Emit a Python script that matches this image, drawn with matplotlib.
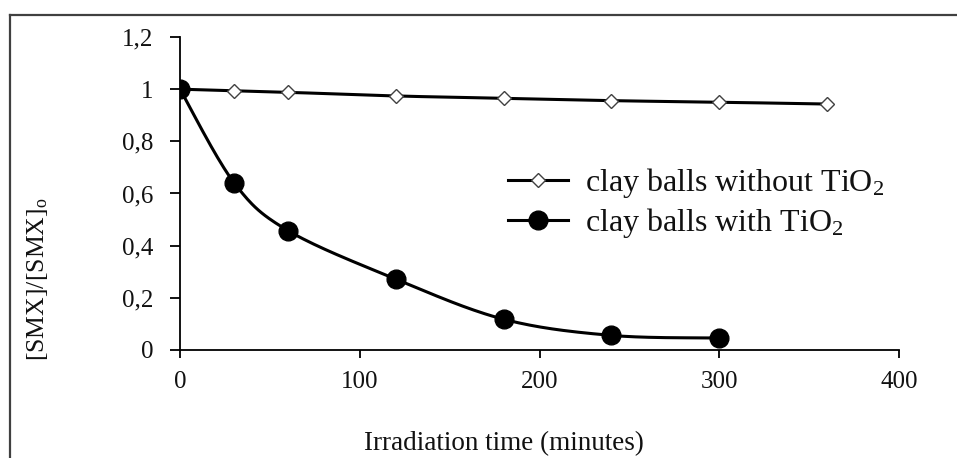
import numpy as np
import matplotlib
matplotlib.use("Agg")
import matplotlib.pyplot as plt
from matplotlib.lines import Line2D

plt.rcParams['font.family'] = ['Liberation Serif', 'DejaVu Serif']
plt.rcParams['mathtext.fontset'] = 'custom'
plt.rcParams['mathtext.rm'] = 'Liberation Serif'
plt.rcParams['mathtext.it'] = 'Liberation Serif:italic'

# Irradiation times (minutes) and normalised SMX concentration
time_without = [0, 30, 60, 120, 180, 240, 300, 360]
conc_without = [1.0, 0.994, 0.988, 0.974, 0.965, 0.956, 0.950, 0.943]

time_with = [0, 30, 60, 120, 180, 240, 300]
conc_with = [1.0, 0.642, 0.458, 0.272, 0.118, 0.056, 0.046]

label_without = r'clay balls without TiO$_2$'
label_with = r'clay balls with TiO$_2$'

x_ticks = [0, 100, 200, 300, 400]
y_ticks = [0, 0.2, 0.4, 0.6, 0.8, 1.0, 1.2]
y_tick_labels = ['0', '0,2', '0,4', '0,6', '0,8', '1', '1,2']

W, H = 957, 458
fig = plt.figure(figsize=(W / 100, H / 100), dpi=100)
ax = fig.add_axes([180 / W, 108 / H, 719 / W, 313 / H])
ax.set_xlim(0, 400)
ax.set_ylim(0, 1.2)


def smooth(xs, ys, n=30):
    """Catmull-Rom curve through the points, computed in axes-pixel space."""
    px = np.asarray(xs, float) / 400 * 719
    py = np.asarray(ys, float) / 1.2 * 313
    P = np.column_stack([px, py])
    P = np.vstack([P[0], P, P[-1]])
    out = []
    for i in range(1, len(P) - 2):
        p0, p1, p2, p3 = P[i - 1], P[i], P[i + 1], P[i + 2]
        t = np.linspace(0, 1, n)[:, None]
        seg = 0.5 * ((2 * p1) + (-p0 + p2) * t
                     + (2 * p0 - 5 * p1 + 4 * p2 - p3) * t ** 2
                     + (-p0 + 3 * p1 - 3 * p2 + p3) * t ** 3)
        out.append(seg if i == 1 else seg[1:])
    c = np.vstack(out)
    return c[:, 0] / 719 * 400, c[:, 1] / 313 * 1.2


lw = 2.2
sx, sy = smooth(time_without, conc_without)
ax.plot(sx, sy, color='black', lw=lw, zorder=2)
ax.plot(time_without, conc_without, ls='none', marker='D', ms=7.5,
        mfc='white', mec='#404040', mew=1.0, zorder=3)

sx, sy = smooth(time_with, conc_with)
ax.plot(sx, sy, color='black', lw=lw, zorder=4)
ax.plot(time_with, conc_with, ls='none', marker='o', ms=13.5,
        mfc='black', mec='black', zorder=5)

for s in ('top', 'right'):
    ax.spines[s].set_visible(False)
for s in ('left', 'bottom'):
    ax.spines[s].set_linewidth(1.3)
    ax.spines[s].set_color('black')

ax.set_xticks(x_ticks)
ax.set_xticklabels([str(v) for v in x_ticks])
ax.set_yticks(y_ticks)
ax.set_yticklabels(y_tick_labels)
ax.tick_params(axis='x', direction='out', length=6, width=1.3, pad=9,
               labelsize=18, colors='black')
ax.tick_params(axis='y', direction='out', length=7, width=1.3, pad=12,
               labelsize=18, colors='black')
for lab in ax.get_xticklabels() + ax.get_yticklabels():
    lab.set_color('#111111')

fig.text(504 / W, 1 - 444 / H, 'Irradiation time (minutes)', ha='center',
         va='center', fontsize=19.5, color='#111111')
fig.text(38 / W, 1 - 279 / H, r'[SMX]/[SMX]$_\mathrm{o}$', ha='center',
         va='center', rotation=90, fontsize=18.5, color='#111111')

handles = [
    Line2D([], [], color='black', lw=lw, marker='D', ms=7.5, mfc='white',
           mec='#404040', mew=1.0),
    Line2D([], [], color='black', lw=lw, marker='o', ms=13.5, mfc='black',
           mec='black'),
]
fig.legend(handles, [label_without, label_with], loc='upper left',
           bbox_to_anchor=(508 / W, 1 - 166 / H), frameon=False,
           fontsize=23, borderpad=0, borderaxespad=0, handlelength=1.87,
           handletextpad=0.53, labelspacing=0.2, labelcolor='#111111')

# outer chart frame (left and top edges)
fig.add_artist(Line2D([9.5 / W, 9.5 / W], [0, 1 - 14.5 / H],
                      transform=fig.transFigure, color='#404040', lw=1.6))
fig.add_artist(Line2D([9.5 / W, 1], [1 - 14.5 / H, 1 - 14.5 / H],
                      transform=fig.transFigure, color='#404040', lw=1.6))

fig.savefig('out.png', dpi=100)
